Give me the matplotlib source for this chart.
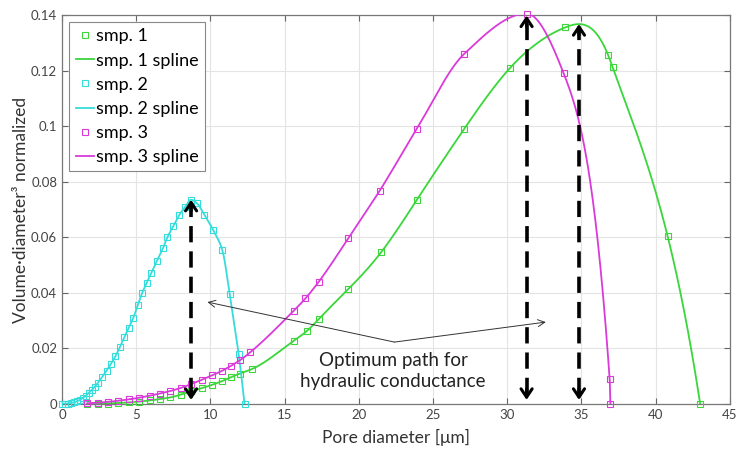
import numpy as np
import matplotlib
matplotlib.use("Agg")
import matplotlib.pyplot as plt

plt.rcParams['font.family'] = ['Lato', 'DejaVu Sans']

# Pore-size distributions (volume * diameter^3, normalized)
smp1_d = [1.7, 2.4, 3.1, 3.8, 4.5, 5.2, 5.9, 6.6, 7.3, 8.0, 8.7, 9.4, 10.1, 10.8,
          11.4, 12.0, 12.8, 15.6, 16.5, 17.3, 19.3, 21.5, 23.9, 27.1, 30.2, 33.9,
          36.8, 37.1, 40.8, 43.0]
smp1_v = [0.0, 0.0001, 0.0002, 0.0004, 0.0006, 0.0009, 0.0013, 0.0018, 0.0024,
          0.0034, 0.0046, 0.0057, 0.0069, 0.0083, 0.0097, 0.0110, 0.0126, 0.0227,
          0.0263, 0.0306, 0.0414, 0.0546, 0.0734, 0.0990, 0.1210, 0.1355, 0.1255,
          0.1212, 0.0605, 0.0]

smp2_d = [0.0, 0.2, 0.4, 0.6, 0.8, 1.0, 1.2, 1.4, 1.6, 1.8, 2.0, 2.2, 2.4, 2.7,
          3.0, 3.3, 3.6, 3.9, 4.2, 4.5, 4.8, 5.1, 5.4, 5.7, 6.0, 6.4, 6.8, 7.1,
          7.5, 7.9, 8.3, 8.7, 9.1, 9.6, 10.2, 10.8, 11.3, 11.9, 12.3]
smp2_v = [0.0, 0.0001, 0.0002, 0.0004, 0.0006, 0.0010, 0.0015, 0.0022, 0.0030,
          0.0040, 0.0050, 0.0062, 0.0075, 0.0097, 0.0120, 0.0145, 0.0172, 0.0205,
          0.0240, 0.0275, 0.0310, 0.0355, 0.0400, 0.0435, 0.0470, 0.0515, 0.0560,
          0.0600, 0.0640, 0.0680, 0.0710, 0.0735, 0.0722, 0.0680, 0.0625, 0.0554,
          0.0396, 0.0180, 0.0]

smp3_d = [1.7, 2.4, 3.1, 3.8, 4.5, 5.2, 5.9, 6.6, 7.3, 8.0, 8.7, 9.4, 10.1, 10.8,
          11.4, 12.0, 12.7, 15.6, 16.4, 17.3, 19.3, 21.4, 23.9, 27.1, 31.3, 33.8,
          36.9, 36.95]
smp3_v = [0.0003, 0.0005, 0.0008, 0.0012, 0.0017, 0.0023, 0.0030, 0.0038, 0.0047,
          0.0058, 0.0072, 0.0087, 0.0103, 0.0120, 0.0138, 0.0158, 0.0187, 0.0335,
          0.0380, 0.0440, 0.0597, 0.0767, 0.0990, 0.1260, 0.1405, 0.1190, 0.0090,
          0.0]

labels = ['smp. 1', 'smp. 2', 'smp. 3']
colors = ['#3ad63a', '#35dcdc', '#d93ad9']
fit_kind = ['cubic', 'pchip', 'pchip']

x_ticks = [0, 5, 10, 15, 20, 25, 30, 35, 40, 45]
y_ticks = [0, 0.02, 0.04, 0.06, 0.08, 0.1, 0.12, 0.14]
y_ticklabels = ['0', '0.02', '0.04', '0.06', '0.08', '0.1', '0.12', '0.14']

note_text = 'Optimum path for\nhydraulic conductance'


def hermite(x, y, m, num):
    t = np.linspace(x[0], x[-1], num)
    k = np.clip(np.searchsorted(x, t) - 1, 0, len(x) - 2)
    h = x[k + 1] - x[k]
    s = (t - x[k]) / h
    h00 = 2 * s ** 3 - 3 * s ** 2 + 1
    h10 = s ** 3 - 2 * s ** 2 + s
    h01 = -2 * s ** 3 + 3 * s ** 2
    h11 = s ** 3 - s ** 2
    return t, h00 * y[k] + h10 * h * m[k] + h01 * y[k + 1] + h11 * h * m[k + 1]


def cubic_spline(x, y, num=800):
    """Not-a-knot cubic spline through (x, y)."""
    x = np.asarray(x, float)
    y = np.asarray(y, float)
    n = len(x)
    h = np.diff(x)
    A = np.zeros((n, n))
    b = np.zeros(n)
    A[0, 0], A[0, 1], A[0, 2] = h[1], -(h[0] + h[1]), h[0]
    A[-1, -3], A[-1, -2], A[-1, -1] = h[-1], -(h[-2] + h[-1]), h[-2]
    for i in range(1, n - 1):
        A[i, i - 1] = h[i - 1]
        A[i, i] = 2 * (h[i - 1] + h[i])
        A[i, i + 1] = h[i]
        b[i] = 6 * ((y[i + 1] - y[i]) / h[i] - (y[i] - y[i - 1]) / h[i - 1])
    M = np.linalg.solve(A, b)
    d = np.diff(y) / h
    m = np.empty(n)
    m[:-1] = d - h * (2 * M[:-1] + M[1:]) / 6
    m[-1] = d[-1] + h[-1] * (M[-2] + 2 * M[-1]) / 6
    return hermite(x, y, m, num)


def pchip(x, y, num=800):
    """Shape-preserving piecewise cubic (Fritsch-Carlson)."""
    x = np.asarray(x, float)
    y = np.asarray(y, float)
    h = np.diff(x)
    d = np.diff(y) / h
    n = len(x)
    m = np.zeros(n)
    for i in range(1, n - 1):
        if d[i - 1] * d[i] > 0:
            w1 = 2 * h[i] + h[i - 1]
            w2 = h[i] + 2 * h[i - 1]
            m[i] = (w1 + w2) / (w1 / d[i - 1] + w2 / d[i])
    m[0] = ((2 * h[0] + h[1]) * d[0] - h[0] * d[1]) / (h[0] + h[1])
    if np.sign(m[0]) != np.sign(d[0]):
        m[0] = 0
    m[-1] = ((2 * h[-1] + h[-2]) * d[-1] - h[-1] * d[-2]) / (h[-1] + h[-2])
    if np.sign(m[-1]) != np.sign(d[-1]):
        m[-1] = 0
    return hermite(x, y, m, num)


fig = plt.figure(figsize=(7.38, 4.53), dpi=100)
ax = fig.add_axes([0.084, 0.108, 0.905, 0.859])

series = [(smp1_d, smp1_v), (smp2_d, smp2_v), (smp3_d, smp3_v)]
peaks = []
for (d, v), lab, col, kind in zip(series, labels, colors, fit_kind):
    ax.plot(d, v, linestyle='none', marker='s', markersize=4.2,
            markerfacecolor='none', markeredgecolor=col, markeredgewidth=0.8,
            label=lab, clip_on=False, zorder=3)
    t, s = cubic_spline(d, v) if kind == 'cubic' else pchip(d, v)
    ax.plot(t, s, color=col, lw=1.3, label=lab + ' spline', zorder=3)
    i = int(np.argmax(s))
    peaks.append((t[i], min(s[i], 0.1398)))

# Dashed double-headed arrows marking each distribution peak
arrow_bottom = 0.0015
head = '->,head_length=0.6,head_width=0.4'
for px, py in peaks:
    ax.plot([px, px], [arrow_bottom + 0.002, py - 0.002], color='black',
            lw=2.6, linestyle=(0, (4.5, 2.5)), zorder=4)
    ax.annotate('', xy=(px, py), xytext=(px, py - 0.004),
                arrowprops=dict(arrowstyle=head, lw=2.2, color='black',
                                shrinkA=0, shrinkB=0), zorder=5)
    ax.annotate('', xy=(px, arrow_bottom), xytext=(px, arrow_bottom + 0.004),
                arrowprops=dict(arrowstyle=head, lw=2.2, color='black',
                                shrinkA=0, shrinkB=0), zorder=5)

# Thin pointer lines from the note
origin = (22.4, 0.0223)
for tip in [(9.8, 0.0367), (32.6, 0.0295)]:
    ax.annotate('', xy=tip, xytext=origin,
                arrowprops=dict(arrowstyle='->,head_length=0.5,head_width=0.25',
                                lw=0.7, color='#333333', shrinkA=0, shrinkB=0))
ax.text(22.3, 0.0119, note_text, ha='center', va='center', fontsize=13.5,
        color='#222222', linespacing=1.25)

ax.set_xlim(0, 45)
ax.set_ylim(0, 0.14)
ax.set_xticks(x_ticks)
ax.set_yticks(y_ticks)
ax.set_yticklabels(y_ticklabels)
ax.grid(True, color='#e4e4e4', lw=0.8)
ax.set_axisbelow(True)
ax.tick_params(direction='in', top=True, right=True, labelsize=9.5,
               colors='#666666', labelcolor='#444444', length=4)
for sp in ax.spines.values():
    sp.set_color('#777777')
    sp.set_linewidth(0.9)

ax.set_xlabel('Pore diameter [\u03bcm]', fontsize=12.5, color='#333333', labelpad=6)
ax.set_ylabel('Volume\u00b7diameter\u00b3 normalized', fontsize=12.5,
              color='#333333', labelpad=1)

leg = ax.legend(loc='upper left', fontsize=13, handlelength=1.0,
                handletextpad=0.15, borderpad=0.35, labelspacing=0.45,
                fancybox=False, framealpha=1, edgecolor='#888888',
                borderaxespad=0.4)
leg.get_frame().set_linewidth(0.8)

fig.savefig('out.png', dpi=100)
